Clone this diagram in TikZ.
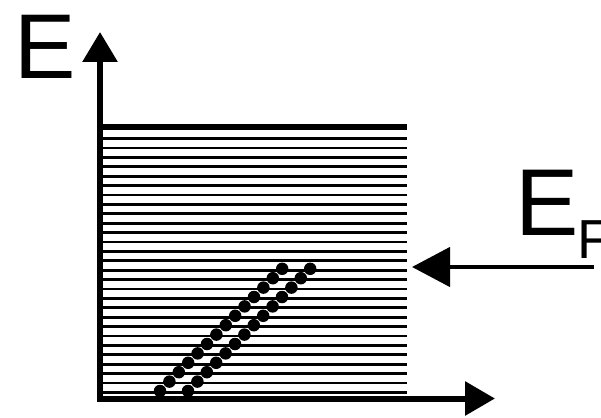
\documentclass[tikz,border=0pt]{standalone}
\usepackage{fontspec}
\setmainfont{Liberation Sans}
\usetikzlibrary{arrows.meta}
\begin{document}
\begin{tikzpicture}[x=1pt,y=-1pt,
  axis/.style={line width=6pt},
  level/.style={line width=2.8pt},
  electron/.style={circle,fill=black,inner sep=0pt,minimum size=12.5pt},
  biglabel/.style={inner sep=0pt,anchor=base west,font=\fontsize{92}{92}\selectfont},
  sublabel/.style={inner sep=0pt,anchor=base west,font=\fontsize{55}{55}\selectfont}]
\useasboundingbox (0,0) rectangle (601,417);
\clip (0,0) rectangle (601,417);
\fill[white] (0,0) rectangle (601,417);
% coordinates
\coordinate (O) at (97,398.5);
\coordinate (Ytip) at (100,32);
\coordinate (Xtip) at (495,398.5);
\coordinate (Fstart) at (594,267);
\coordinate (Ftip) at (412,267);
% energy levels
\foreach \i in {0,...,27}{
  \draw[level] (100,{392.3-9.4*\i}) -- (407,{392.3-9.4*\i});
}
\draw[line width=5.5pt] (100,127) -- (407,127);
% electrons
\foreach \i in {0,...,13}{
  \node[electron] (a\i) at ({160+9.4*\i},{391-9.4*\i}) {};
  \node[electron] (b\i) at ({188+9.4*\i},{391-9.4*\i}) {};
}
% axes
\draw[axis,-{Triangle[length=30pt,width=34pt]}] (100,401.5) -- (Ytip);
\draw[axis,-{Triangle[length=30pt,width=33pt]}] (O) -- (Xtip);
% Fermi arrow
\draw[line width=4.5pt,-{Triangle[length=38pt,width=39pt]}] (Fstart) -- (Ftip);
% labels
\node[biglabel] (E) at (14,79) {E};
\node[biglabel,font=\fontsize{95}{95}\selectfont] (EF) at (515.5,235) {E};
\node[sublabel] (F) at (577.5,258) {F};
\end{tikzpicture}
\end{document}
